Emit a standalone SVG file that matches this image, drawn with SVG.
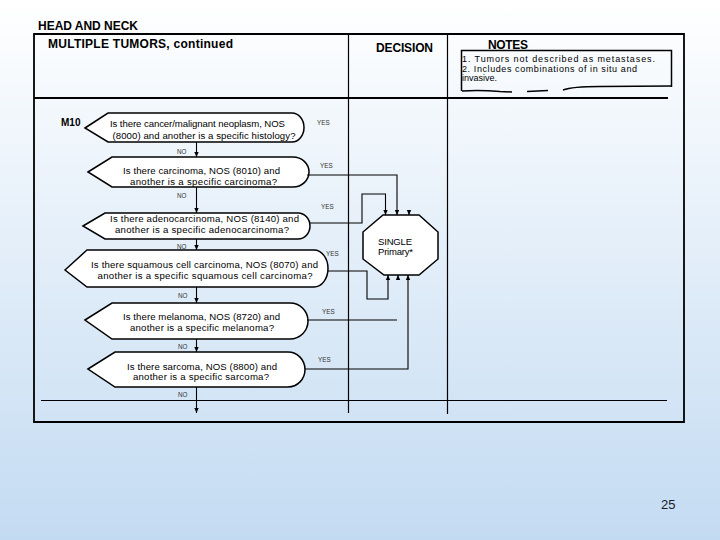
<svg xmlns="http://www.w3.org/2000/svg" width="720" height="540" viewBox="0 0 720 540">
<defs>
<linearGradient id="bg" x1="0" y1="0" x2="0" y2="1">
<stop offset="0" stop-color="#ffffff"/>
<stop offset="1" stop-color="#c3dbf2"/>
</linearGradient>
<marker id="ah" markerWidth="6" markerHeight="6" refX="5" refY="3" orient="auto" markerUnits="userSpaceOnUse">
<path d="M0,0.8 L5,3 L0,5.2 Z" fill="#000"/>
</marker>
</defs>
<style>
text{font-family:"Liberation Sans",Arial,sans-serif;fill:#000}
.h{font-weight:bold;font-size:12px}
.q{font-size:9.6px}
.lb{font-size:6.3px;fill:#333}
.n{font-size:9px}
.shape{fill:#fff;stroke:#000;stroke-width:1.5}
.ln{fill:none;stroke:#000;stroke-width:1.1}
.fr{fill:none;stroke:#000}
</style>
<rect x="0" y="0" width="720" height="540" fill="url(#bg)"/>

<g id="frame">
<text class="h" x="38" y="30" textLength="100">HEAD AND NECK</text>
<path class="fr" stroke-width="1.8" d="M34,34 H684 V422 H34 Z"/>
<line class="fr" stroke-width="2" x1="34" y1="98" x2="668" y2="98"/>
<line class="fr" stroke-width="1.2" x1="41" y1="400.5" x2="667" y2="400.5"/>
<line class="fr" stroke-width="1.2" x1="348.5" y1="34" x2="348.5" y2="413"/>
<line class="fr" stroke-width="1.2" x1="447.5" y1="34" x2="447.5" y2="414"/>
<text class="h" x="48" y="48" textLength="185">MULTIPLE TUMORS, continued</text>
<text class="h" x="376" y="52" textLength="57">DECISION</text>
</g>

<g id="notes">
<text class="h" x="488" y="49" font-size="11.5" textLength="40">NOTES</text>
<path class="fr" stroke-width="1.5" d="M461.5,91 V50.5 H671.5 V87"/>
<path class="fr" stroke-width="1.5" d="M462,91 Q480,90 500,91.5 L512,92 M527,91.5 L548,90.5 M563,90 Q572,86.5 600,86.5 L672,86"/>
<text class="n" x="462" y="62" textLength="193">1. Tumors not described as metastases.</text>
<text class="n" x="462" y="71.5" textLength="175">2. Includes combinations of in situ and</text>
<text class="n" x="462" y="81">invasive.</text>
</g>

<g id="m10">
<text x="61" y="126" font-weight="bold" font-size="10">M10</text>
</g>

<g id="q1">
<path class="shape" d="M85,128 L108,113 H292 A12,14.5 0 0 1 292,142 H108 Z"/>
<text class="q" x="110" y="127" textLength="175">Is there cancer/malignant neoplasm, NOS</text>
<text class="q" x="112.5" y="139" textLength="183">(8000) and another is a specific histology?</text>
</g>

<g id="q2">
<path class="shape" d="M88,172 L112,157 H293 A16,15 0 0 1 293,187 H112 Z"/>
<text class="q" x="123" y="174" textLength="157">Is there carcinoma, NOS (8010) and</text>
<text class="q" x="130" y="184.5" textLength="147">another is a specific carcinoma?</text>
</g>

<g id="q3">
<path class="shape" d="M83,226 L105,213 H298 A12,13 0 0 1 298,239 H105 Z"/>
<text class="q" x="110" y="221.5" textLength="189">Is there adenocarcinoma, NOS (8140) and</text>
<text class="q" x="115" y="232.5" textLength="174">another is a specific adenocarcinoma?</text>
</g>

<g id="q4">
<path class="shape" d="M65,270 L87,250 H314 A14,18.5 0 0 1 314,287 H87 Z"/>
<text class="q" x="91" y="267.5" textLength="227">Is there squamous cell carcinoma, NOS (8070) and</text>
<text class="q" x="97.5" y="279" textLength="215">another is a specific squamous cell carcinoma?</text>
</g>

<g id="q5">
<path class="shape" d="M85,320 L112,303 H290 A18,18 0 0 1 290,339 H112 Z"/>
<text class="q" x="123" y="319.5" textLength="157">Is there melanoma, NOS (8720) and</text>
<text class="q" x="130" y="331" textLength="144">another is a specific melanoma?</text>
</g>

<g id="q6">
<path class="shape" d="M88,369 L115,352 H288 A17,17.5 0 0 1 288,387 H115 Z"/>
<text class="q" x="127" y="369.5" textLength="150">Is there sarcoma, NOS (8800) and</text>
<text class="q" x="133" y="380" textLength="136">another is a specific sarcoma?</text>
</g>

<g id="single">
<path class="shape" d="M383,215 H419 L438,232 V259 L419,275 H384 L363,259 V232 Z"/>
<text x="378" y="244.5" font-size="9.5" textLength="34">SINGLE</text>
<text x="378" y="255" font-size="9.5" textLength="35">Primary*</text>
</g>

<g id="connectors">
<path class="ln" d="M196.5,142 V157" marker-end="url(#ah)"/>
<path class="ln" d="M196.5,187 V213" marker-end="url(#ah)"/>
<path class="ln" d="M196.5,239 V250" marker-end="url(#ah)"/>
<path class="ln" d="M196.5,287 V303" marker-end="url(#ah)"/>
<path class="ln" d="M196.5,339 V352" marker-end="url(#ah)"/>
<path class="ln" d="M196.5,387 V413" marker-end="url(#ah)"/>
<path class="ln" d="M307,175 H397 V215" marker-end="url(#ah)"/>
<path class="ln" d="M310,223 H362 V194 H385.5 V215" marker-end="url(#ah)"/>
<path class="ln" d="M328,271 H367 V299 H388 V275" marker-end="url(#ah)"/>
<path class="ln" d="M307,320 H397"/>
<path class="ln" d="M305,369 H408 V275" marker-end="url(#ah)"/>
<path class="ln" d="M409,210.5 V215" marker-end="url(#ah)"/>
<path class="ln" d="M398,279.5 V275" marker-end="url(#ah)"/>
<text class="lb" x="317" y="125">YES</text>
<text class="lb" x="320" y="167.5">YES</text>
<text class="lb" x="321" y="209">YES</text>
<text class="lb" x="326" y="256">YES</text>
<text class="lb" x="322" y="313.5">YES</text>
<text class="lb" x="318" y="361.5">YES</text>
<text class="lb" x="177" y="154">NO</text>
<text class="lb" x="177" y="197.5">NO</text>
<text class="lb" x="177" y="249">NO</text>
<text class="lb" x="178" y="298">NO</text>
<text class="lb" x="178" y="349">NO</text>
<text class="lb" x="178" y="397">NO</text>
</g>

<text x="661" y="509" font-size="13" style="fill:#1a1a2e">25</text>
</svg>
